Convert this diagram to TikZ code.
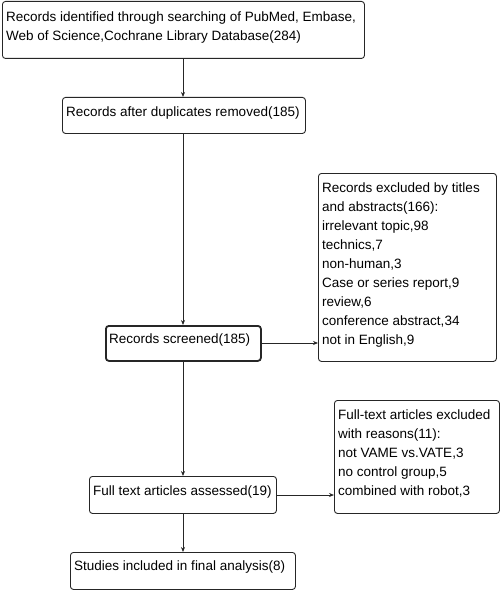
\documentclass[tikz,border=0pt]{standalone}
\usepackage{fontspec}
\setmainfont{Liberation Sans}
\usetikzlibrary{arrows.meta}
\begin{document}
\begin{tikzpicture}[x=1pt,y=-1pt,
  box/.style={draw=black!85, line width=0.9pt, rounded corners=3pt, inner sep=0pt, anchor=north west},
  thickbox/.style={box, line width=1.8pt},
  txt/.style={anchor=north west, inner sep=0pt, font=\fontsize{13.5}{19}\selectfont, align=left},
  arr/.style={draw=black!85, line width=0.8pt, -{Stealth[length=5pt,width=4pt]}}]
\useasboundingbox (0,0) rectangle (500,591);
% boxes
\node[box, minimum width=362pt, minimum height=57pt] (b1) at (2,1) {};
\node[box, minimum width=243pt, minimum height=36pt] (b2) at (62,97) {};
\node[thickbox, minimum width=155pt, minimum height=35pt] (b3) at (105,325) {};
\node[box, minimum width=178pt, minimum height=188pt] (b4) at (318,173) {};
\node[box, minimum width=187pt, minimum height=37pt] (b5) at (89,476) {};
\node[box, minimum width=165pt, minimum height=113pt] (b6) at (334,400) {};
\node[box, minimum width=225pt, minimum height=37pt] (b7) at (70,552) {};
% texts
\node[txt] (t1) at (6,12) {Records identified through searching of PubMed, Embase,\\Web of Science,Cochrane Library Database(284)};
\node[txt] (t2) at (66,107) {Records after duplicates removed(185)};
\node[txt] (t3) at (109,334) {Records screened(185)};
\node[txt] (t4) at (322,183) {Records excluded by titles\\and abstracts(166):\\irrelevant topic,98\\technics,7\\non-human,3\\Case or series report,9\\review,6\\conference abstract,34\\not in English,9};
\node[txt] (t5) at (93,486) {Full text articles assessed(19)};
\node[txt] (t6) at (338,410) {Full-text articles excluded\\with reasons(11):\\not VAME vs.VATE,3\\no control group,5\\combined with robot,3};
\node[txt] (t7) at (74,561) {Studies included in final analysis(8)};
% connectors
\coordinate (c1) at (183,58);
\draw[arr] (b1.south -| c1) -- (b2.north -| c1);
\draw[arr] (b2.south -| c1) -- (b3.north -| c1);
\draw[arr] (b3.south -| c1) -- (b5.north -| c1);
\draw[arr] (b5.south -| c1) -- (b7.north -| c1);
\coordinate (c2) at (0,343);
\draw[arr] (b3.east |- c2) -- (b4.west |- c2);
\coordinate (c3) at (0,495);
\draw[arr] (b5.east |- c3) -- (b6.west |- c3);
\end{tikzpicture}
\end{document}
